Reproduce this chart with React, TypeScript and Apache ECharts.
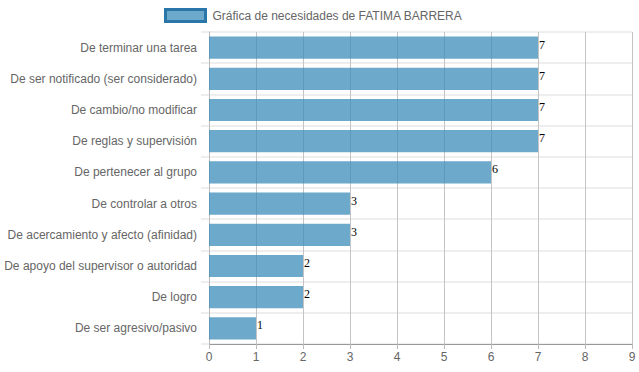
import React, { useEffect, useRef } from "react";
import * as echarts from "echarts";

const categories = [
  "De terminar una tarea",
  "De ser notificado (ser considerado)",
  "De cambio/no modificar",
  "De reglas y supervisión",
  "De pertenecer al grupo",
  "De controlar a otros",
  "De acercamiento y afecto (afinidad)",
  "De apoyo del supervisor o autoridad",
  "De logro",
  "De ser agresivo/pasivo",
];
const values = [7, 7, 7, 7, 6, 3, 3, 2, 2, 1];
const seriesName = "Gráfica de necesidades de FATIMA BARRERA";

export default function App() {
  const ref = useRef<HTMLDivElement>(null);
  useEffect(() => {
    if (!ref.current) return;
    const chart = echarts.init(ref.current, undefined, { renderer: "svg" });
    chart.setOption({
      animation: false,
      legend: {
        top: 3,
        left: 159,
        icon: "rect",
        itemWidth: 40,
        itemHeight: 12,
        itemGap: 8,
        itemStyle: { color: "rgba(60,140,185,0.75)", borderColor: "#2a76a8", borderWidth: 3 },
        textStyle: { color: "#666", fontSize: 12, fontFamily: "Liberation Sans, Arial, sans-serif", padding: [0, 0, 0, 2] },
        data: [seriesName],
      },
      grid: { left: 209, right: 7, top: 32, bottom: 28, containLabel: false },
      xAxis: {
        type: "value",
        min: 0,
        max: 9,
        interval: 1,
        axisLine: { show: true, lineStyle: { color: "#999", width: 1 } },
        axisTick: { show: true, length: 5, lineStyle: { color: "#bbb" } },
        axisLabel: { color: "#666", fontSize: 12, margin: 7, fontFamily: "Liberation Sans, Arial, sans-serif" },
        splitLine: { show: true, lineStyle: { color: "#c4c4c4", width: 1 } },
      },
      yAxis: {
        type: "category",
        inverse: true,
        data: categories,
        axisLine: { show: true, lineStyle: { color: "#bbb" } },
        axisTick: { show: true, length: 8, lineStyle: { color: "#eee", width: 2 } },
        axisLabel: { color: "#666", fontSize: 12, margin: 12, fontFamily: "Liberation Sans, Arial, sans-serif" },
        splitLine: { show: true, lineStyle: { color: "#eeeeee", width: 2 } },
      },
      series: [
        {
          name: seriesName,
          type: "bar",
          data: values,
          barCategoryGap: "29%",
          itemStyle: {
            color: "rgba(60,140,185,0.75)",
          },
          label: {
            show: true,
            position: "right",
            distance: 1,
            color: "#000",
            fontSize: 12,
            fontFamily: "Liberation Serif, Times New Roman, serif",
            offset: [0, -3],
          },
        },
      ],
    });
    return () => chart.dispose();
  }, []);
  return <div ref={ref} style={{ width: 639, height: 372, position: "absolute", left: 0, top: 0 }} />;
}
